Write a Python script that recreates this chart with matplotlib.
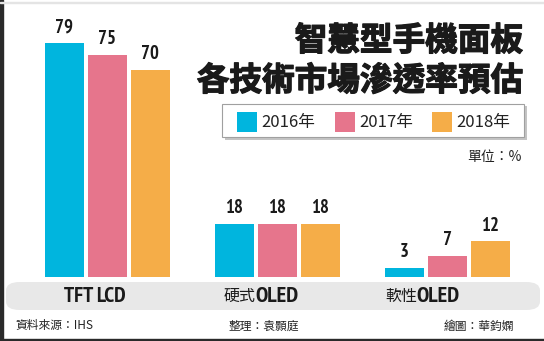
import matplotlib
matplotlib.use("Agg")
import matplotlib.pyplot as plt
from matplotlib.patches import FancyBboxPatch, Rectangle
from matplotlib import font_manager
from matplotlib.font_manager import FontProperties
import matplotlib.patheffects as pe
import numpy as np

categories = ["TFT LCD", "硬式OLED", "軟性OLED"]
cat_cjk = ["", "硬式", "軟性"]
cat_latin = ["TFT LCD", "OLED", "OLED"]
years = ["2016年", "2017年", "2018年"]
values_2016 = [79, 18, 3]
values_2017 = [75, 18, 7]
values_2018 = [70, 18, 12]
colors = ["#00b5de", "#e6758c", "#f5ad48"]

title_lines = ["智慧型手機面板", "各技術市場滲透率預估"]
unit_text = "單位：%"
footer = ["資料來源：IHS", "整理：袁顥庭", "繪圖：華鈞嫻"]

W, H = 544, 341
fig = plt.figure(figsize=(W / 100, H / 100), dpi=100)
fig.patch.set_facecolor("white")

CJK = ["Noto Sans CJK TC", "DejaVu Sans"]


def _w(f):
    w = f.weight
    if isinstance(w, str):
        return {"bold": 700, "heavy": 800, "black": 900, "semibold": 600, "demibold": 600}.get(w, 400)
    return w


# choose a bold narrow font file
cands = []
for f in font_manager.fontManager.ttflist:
    fn = f.fname.lower()
    if ("narrow" in f.name.lower() or "narrow" in fn) and _w(f) >= 700 and "italic" not in fn:
        cands.append((0, f.fname))
    elif "dejavusanscondensed-bold." in fn:
        cands.append((1, f.fname))
cands.sort()
if cands:
    NUMFP = lambda size: FontProperties(fname=cands[0][1], size=size)
else:
    NUMFP = lambda size: FontProperties(family="DejaVu Sans", weight="bold", stretch="condensed", size=size)


def fx(x):
    return x / W


def fy(y):
    return 1 - y / H


# frame
fig.add_artist(Rectangle((0, 0), fx(3), 1, transform=fig.transFigure, color="#2a2a2a", zorder=0))
fig.add_artist(Rectangle((0, 0), 1, 2.5 / H, transform=fig.transFigure, color="#2a2a2a", zorder=0))
fig.add_artist(Rectangle((0, fy(3)), 1, 1.2 / H, transform=fig.transFigure, color="#e4e4e4", zorder=0))

# category band
band = FancyBboxPatch((fx(6), fy(310)), fx(534), fy(282) - fy(310),
                      boxstyle="round,pad=0,rounding_size=0.025",
                      transform=fig.transFigure, facecolor="#e8e8e8", edgecolor="none", zorder=0)
fig.add_artist(band)

# bar axes: x centers at 107,277,447 px ; baseline y=277 px
px_per_unit_x = 170.0
bottom_px = H - 277
ax = fig.add_axes([0, bottom_px / H, 1, 277 / H])
ax.set_xlim(-107 / px_per_unit_x, (W - 107) / px_per_unit_x)
ppu_y = 234 / 79
ax.set_ylim(0, 277 / ppu_y)
ax.axis("off")
ax.patch.set_alpha(0)

x = np.arange(len(categories))
bw = 39 / px_per_unit_x
off = 43 / px_per_unit_x
series = [values_2016, values_2017, values_2018]
for i, (vals, c) in enumerate(zip(series, colors)):
    xs = x + (i - 1) * off
    ax.bar(xs, vals, width=bw, color=c, zorder=2)
    for xx, v in zip(xs, vals):
        ax.annotate(str(v), (xx, v), xytext=(0, 5), textcoords="offset points",
                    ha="center", va="bottom", fontproperties=NUMFP(13.5),
                    color="#1a1a1a")

# category labels
fig.text(fx(95), fy(296), cat_latin[0], ha="center", va="center",
         fontproperties=NUMFP(15.5), color="#1a1a1a")
splits = [None, 256, 417]
for k in (1, 2):
    fig.text(fx(splits[k]), fy(296), cat_cjk[k], ha="right", va="center", fontsize=11.5,
             family=CJK, color="#1a1a1a")
    fig.text(fx(splits[k] - 1), fy(296), cat_latin[k], ha="left", va="center",
             fontproperties=NUMFP(16), color="#1a1a1a")

# title
thick = [pe.withStroke(linewidth=0.9, foreground="#1a1a1a")]
fig.text(fx(523), fy(41), title_lines[0], ha="right", va="center", fontsize=23.5,
         fontweight="heavy", family=CJK, color="#1a1a1a", path_effects=thick)
fig.text(fx(523), fy(81), title_lines[1], ha="right", va="center", fontsize=23.5,
         fontweight="heavy", family=CJK, color="#1a1a1a", path_effects=thick)

# legend box with shadow
fig.add_artist(Rectangle((fx(225), fy(140)), fx(302), fy(106) - fy(140),
                         transform=fig.transFigure, facecolor="#c4c4c4", edgecolor="none", zorder=1))
fig.add_artist(Rectangle((fx(222), fy(137)), fx(302), fy(104) - fy(137),
                         transform=fig.transFigure, facecolor="white", edgecolor="#a0a0a0", lw=0.8, zorder=2))
leg_x = [237, 335, 432]
for lx, c, yr in zip(leg_x, colors, years):
    fig.add_artist(Rectangle((fx(lx), fy(132)), fx(20), fy(112) - fy(132),
                             transform=fig.transFigure, facecolor=c, edgecolor="none", zorder=3))
    fig.text(fx(lx + 24), fy(122), yr, ha="left", va="center", fontsize=12,
             family=CJK, color="#222222", zorder=4)

fig.text(fx(522), fy(157), unit_text, ha="right", va="center", fontsize=10,
         family=CJK, color="#222222")

fig.text(fx(15), fy(326), footer[0], ha="left", va="center", fontsize=8.5, family=CJK, color="#222222")
fig.text(fx(229), fy(326), footer[1], ha="left", va="center", fontsize=8.5, family=CJK, color="#222222")
fig.text(fx(514), fy(326), footer[2], ha="right", va="center", fontsize=8.5, family=CJK, color="#222222")

fig.savefig("out.png", dpi=100, facecolor="white")
